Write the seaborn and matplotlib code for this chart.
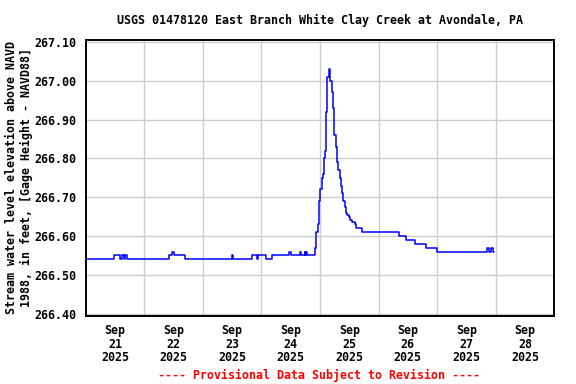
import matplotlib
matplotlib.use("Agg")
import matplotlib.pyplot as plt
import seaborn as sns
import pandas as pd

# hours after 2025-09-21 00:00 where the gage height changes (step values)
hours = [0.0, 11.5, 14.0, 14.75, 15.5, 16.0, 16.75,
         34.0, 35.25, 36.25, 40.75,
         60.0, 60.25,
         68.25, 70.0, 70.5, 73.75, 76.5,
         83.25, 84.0, 88.0, 88.25, 89.75, 90.0, 90.25, 90.75,
         94.0, 94.25, 95.0, 95.5, 96.0, 96.75, 97.25, 97.75, 98.25, 98.5,
         99.0, 99.5, 100.25, 100.75, 101.25, 101.75, 102.5, 103.0, 103.5,
         104.0, 104.5, 105.0, 105.5, 106.25, 106.75, 107.25, 107.75, 108.25,
         109.0, 110.25, 110.75, 113.25,
         128.25, 131.25, 135.0, 139.5, 144.0,
         164.5, 165.25, 166.25, 166.75, 167.5]
gage = [266.54, 266.55, 266.54, 266.55, 266.54, 266.55, 266.54,
        266.55, 266.56, 266.55, 266.54,
        266.55, 266.54,
        266.55, 266.54, 266.55, 266.54, 266.55,
        266.56, 266.55, 266.56, 266.55, 266.56, 266.55, 266.56, 266.55,
        266.57, 266.61, 266.63, 266.69, 266.72, 266.75, 266.76, 266.80, 266.82, 266.92,
        267.01, 267.03, 267.00, 266.97, 266.93, 266.86, 266.83, 266.79, 266.77,
        266.75, 266.73, 266.71, 266.69, 266.675, 266.66, 266.655, 266.65, 266.64,
        266.635, 266.63, 266.62, 266.61,
        266.60, 266.59, 266.58, 266.57, 266.56,
        266.57, 266.56, 266.57, 266.56, 266.56]

title = "USGS 01478120 East Branch White Clay Creek at Avondale, PA"
ylabel = "Stream water level elevation above NAVD\n1988, in feet, [Gage Height - NAVD88]"
footer = "---- Provisional Data Subject to Revision ----"
yticks = [266.40, 266.50, 266.60, 266.70, 266.80, 266.90, 267.00, 267.10]

start = pd.Timestamp("2025-09-21 00:00")
df = pd.DataFrame({"time": start + pd.to_timedelta(hours, unit="h"), "gage": gage})

sns.set_style("white", rc={"text.color": "black", "axes.labelcolor": "black",
                           "xtick.color": "black", "ytick.color": "black"})
plt.rcParams["font.family"] = ["DejaVu Sans Mono"]
plt.rcParams["font.weight"] = "bold"

fig = plt.figure(figsize=(5.76, 3.84), dpi=100)
ax = fig.add_axes([0.1488, 0.1771, 0.8135, 0.72])

sns.lineplot(data=df, x="time", y="gage", ax=ax, color="#0000ff", lw=1.1,
             drawstyle="steps-post", estimator=None, sort=False)

ax.set_xlim(start, start + pd.Timedelta(days=8))
ax.set_ylim(266.394, 267.106)

days = [start + pd.Timedelta(days=d) for d in range(8)]
ax.set_xticks([d + pd.Timedelta(hours=12) for d in days])
ax.set_xticklabels([d.strftime("%b\n%d\n%Y") for d in days], linespacing=1.05)
ax.set_xticks(days[1:], minor=True)
ax.set_yticks(yticks)
ax.set_yticklabels([f"{v:.2f}" for v in yticks])

ax.grid(False)
ax.grid(True, which="minor", axis="x", color="#cccccc", lw=1)
ax.grid(True, which="major", axis="y", color="#cccccc", lw=1)
ax.set_axisbelow(True)
ax.tick_params(which="both", length=0)
ax.tick_params(axis="y", pad=7, labelsize=8.4, labelcolor="black")
ax.tick_params(axis="x", pad=6, labelsize=8.4, labelcolor="black")
for s in ax.spines.values():
    s.set_color("black")
    s.set_linewidth(1.4)

ax.set_xlabel("")
ax.set_ylabel(ylabel, fontsize=8.4, fontweight="bold", labelpad=1, linespacing=1.1,
              color="black")

fig.text(0.555, 0.948, title, ha="center", va="center", fontsize=8.4,
         fontweight="bold", color="black")
fig.text(0.553, 0.022, footer, ha="center", va="center", fontsize=8.4,
         fontweight="bold", color="#ff0000")

fig.savefig("out.png", dpi=100)
